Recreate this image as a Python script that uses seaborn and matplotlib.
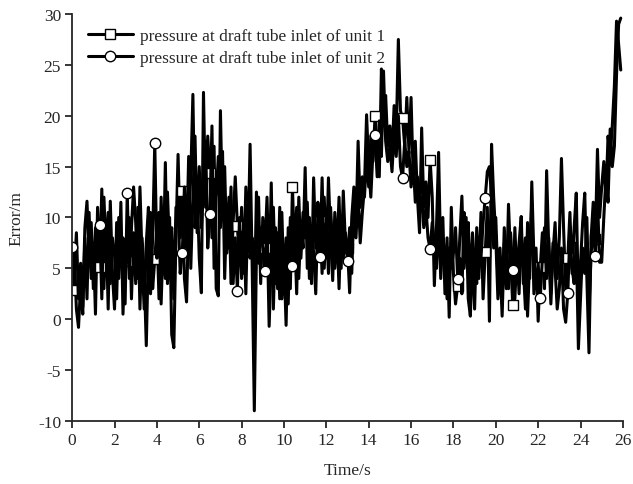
import numpy as np
import matplotlib
matplotlib.use('Agg')
import matplotlib.pyplot as plt
import seaborn as sns

# sampling grid, 0.1 s step
time_s = np.round(np.arange(0, 26.0, 0.1), 1)

# pressure error at draft tube inlet, unit 1 (one row = one second)
unit1 = [
    2.9, 6.5, 1.0, -0.8, 3.5, 0.5, 8.0, 2.0, 10.5, 4.0,
    7.5, 0.5, 11.0, 5.1, 12.8, 3.0, 9.5, 1.0, 11.6, 4.5,
    1.0, 9.5, 4.0, 11.5, 0.5, 7.0, 5.7, 10.0, 2.0, 8.5,
    3.5, 11.0, 1.0, 8.0, 4.5, -2.6, 7.0, 10.5, 3.0, 5.9,
    9.0, 2.0, 12.0, 5.0, 15.4, 3.5, 10.0, -1.5, -2.8, 8.0,
    16.2, 8.0, 12.6, 4.0, 1.7, 10.0, 14.0, 22.1, 9.0, 13.0,
    6.0, 2.6, 22.3, 11.0, 18.0, 14.4, 8.0, 17.0, 3.0, 2.3,
    20.5, 10.0, 15.0, 6.5, 12.0, 3.5, 9.5, 14.0, 9.2, 5.5,
    11.0, 4.5, 13.0, 7.0, 17.2, 5.0, -9.0, 6.5, 12.0, 3.5,
    10.0, 7.0, 12.0, 4.0, 13.4, 1.0, 9.0, 3.0, 11.0, 2.0,
    6.0, -0.6, 9.0, 3.0, 13.0, 6.5, 11.0, 4.0, 9.5, 7.0,
    14.9, 5.0, 10.0, 3.5, 13.9, 7.0, 11.5, 9.7, 4.5, 12.0,
    6.0, 13.9, 8.0, 3.8, 10.5, 6.5, 12.0, 5.0, 12.6, 7.5,
    7.0, 2.6, 10.0, 13.0, 9.0, 17.5, 11.0, 14.0, 12.0, 16.0,
    13.0, 18.0, 15.5, 20.0, 17.0, 14.0, 24.6, 20.0, 22.0, 17.0,
    19.0, 16.0, 21.0, 18.0, 27.5, 20.5, 19.8, 17.0, 21.8, 16.5,
    21.8, 14.0, 17.5, 12.0, 8.5, 18.8, 11.0, 13.5, 10.0, 15.7,
    12.0, 3.3, 9.0, 16.4, 6.0, 10.0, 2.5, 8.0, 0.2, 11.0,
    4.5, 1.5, 3.3, 8.0, 12.1, 5.0, 10.0, 2.0, 0.3, 7.0,
    1.0, 9.0, 4.0, 10.5, 2.0, 6.6, 11.0, -0.2, 17.2, 12.0,
    8.0, 2.0, 5.5, 0.3, 7.5, 3.0, 11.3, 6.0, 1.4, 9.0,
    4.0, 7.5, 10.1, 3.5, 8.0, 0.3, 6.0, 11.5, 2.5, 7.0,
    -0.2, 5.1, 8.5, 3.0, 14.6, 7.0, 1.5, 6.5, 9.5, 4.0,
    8.0, 15.8, 9.0, 3.0, 6.0, 10.5, 4.5, 9.0, 12.4, 1.5,
    5.5, 9.5, 12.4, 4.0, -3.3, 8.0, 11.5, 7.9, 16.7, 10.0,
    13.0, 15.5, 12.0, 18.0, 16.0, 19.0, 23.0, 29.3, 27.0, 24.5,
]

# pressure error at draft tube inlet, unit 2
unit2 = [
    7.1, 4.5, 8.5, 2.0, 5.5, 1.2, 9.0, 11.6, 6.0, 9.5,
    3.0, 9.0, 6.0, 9.3, 2.0, 12.0, 6.5, 10.5, 3.5, 8.0,
    6.5, 2.0, 10.0, 5.5, 8.0, 1.5, 12.4, 4.0, 9.0, 13.0,
    9.5, 4.0, 13.0, 6.0, 1.0, 7.5, 11.0, 2.5, 8.0, 17.3,
    6.0, 10.5, 1.5, 8.0, 4.0, 12.5, 6.5, 9.0, 2.0, 11.0,
    11.0, 4.5, 6.5, 13.0, 7.0, 16.0, 5.0, 12.0, 18.0, 8.5,
    15.0, 9.0, 13.0, 17.5, 7.0, 10.3, 19.0, 5.0, 12.0, 16.0,
    9.0, 16.5, 4.0, 11.0, 7.0, 13.0, 3.5, 8.0, 2.8, 10.0,
    4.0, 9.5, 2.5, 11.5, 6.0, 8.0, 1.0, 12.5, 5.5, 9.0,
    7.0, 4.7, 9.5, -0.7, 6.0, 11.0, 3.5, 8.5, 2.0, 10.5,
    3.0, 8.0, 1.5, 10.0, 5.2, 8.5, 2.5, 12.0, 6.0, 10.5,
    8.0, 11.5, 4.0, 9.0, 6.5, 2.5, 10.5, 6.1, 13.9, 5.0,
    9.5, 4.5, 11.0, 7.0, 5.0, 9.0, 3.0, 10.0, 6.0, 8.5,
    5.7, 9.0, 4.5, 11.0, 8.0, 12.5, 7.5, 10.5, 13.0, 20.1,
    15.0, 12.0, 16.5, 18.1, 14.0, 19.5, 16.0, 24.4, 17.5, 15.5,
    17.0, 14.5, 18.5, 16.0, 20.0, 15.0, 13.9, 17.5, 15.0, 16.5,
    13.0, 15.5, 11.5, 14.0, 10.5, 12.0, 9.0, 11.0, 8.0, 6.9,
    9.5, 7.0, 5.0, 10.5, 4.0, 8.0, 6.5, 2.0, 7.0, 5.0,
    6.5, 9.0, 4.0, 6.0, 2.5, 10.5, 7.0, 9.5, 3.0, 8.5,
    5.0, 3.5, 8.0, 6.0, 9.5, 11.9, 14.5, 15.0, 12.0, 7.0,
    10.0, 4.0, 7.0, 1.5, 9.0, 5.5, 3.0, 8.5, 4.8, 2.0,
    6.5, 2.5, 8.5, 5.0, 1.0, 9.5, 4.0, 13.5, 6.0, 3.0,
    5.5, 2.1, 6.0, 9.0, 4.0, 8.0, 2.5, 7.5, 5.0, 1.0,
    3.0, 7.0, 1.0, -0.3, 2.6, 8.5, 5.0, 3.5, 7.5, -2.9,
    2.0, 7.0, 4.5, 10.0, 1.0, 6.5, 9.0, 6.2, 12.0, 5.6,
    5.6, 10.0, 14.0, 11.5, 18.7, 15.0, 17.0, 24.0, 29.0, 29.6,
]

labels = ['pressure at draft tube inlet of unit 1',
          'pressure at draft tube inlet of unit 2']
x_ticks = np.arange(0, 27, 2)
y_ticks = np.arange(-10, 31, 5)

sns.set_style('ticks')
plt.rcParams['font.family'] = ['Liberation Serif', 'DejaVu Serif']
plt.rcParams['axes.unicode_minus'] = False
plt.rcParams['xtick.major.width'] = 1.3
plt.rcParams['ytick.major.width'] = 1.3

fig, ax = plt.subplots(figsize=(6.33, 4.85), dpi=100)
fig.subplots_adjust(left=0.114, right=0.984, bottom=0.13, top=0.969)

common = dict(color='black', lw=2.2, markevery=13, ms=7.5,
              mfc='white', mec='black', mew=1.0)
sns.lineplot(x=time_s, y=unit1, ax=ax, marker='s', label=labels[0], **common)
sns.lineplot(x=time_s, y=unit2, ax=ax, marker='o', label=labels[1], **common)

ax.set_xlim(0, 26)
ax.set_ylim(-10, 30)
ax.set_xticks(x_ticks)
ax.set_yticks(y_ticks)
ax.tick_params(labelsize=12.5, length=5, pad=3, direction='out')
ax.set_xlabel('Time/s', fontsize=12.5, labelpad=10)
ax.set_ylabel('Error/m', fontsize=12.5, labelpad=10)
for side in ['left', 'bottom']:
    ax.spines[side].set_linewidth(1.3)
sns.despine(ax=ax)

ax.legend(loc='upper left', bbox_to_anchor=(0.0, 1.005), frameon=False,
          fontsize=12.5, handlelength=2.6, handletextpad=0.4, labelspacing=0.35)

plt.savefig('out.png', dpi=100)
